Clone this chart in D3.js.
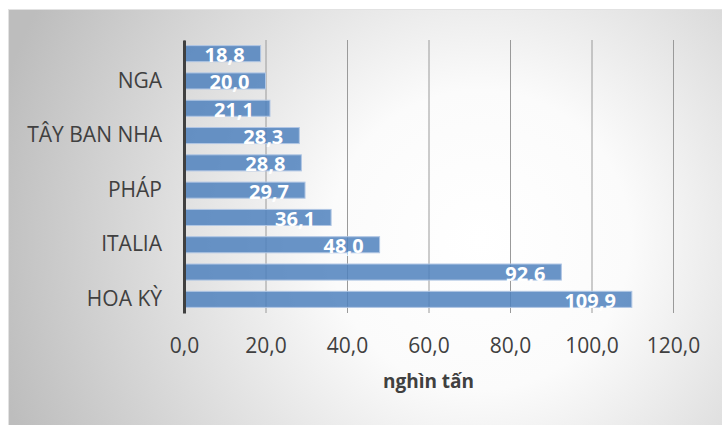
<!DOCTYPE html>
<html>
<head>
<meta charset="utf-8">
<script src="https://d3js.org/d3.v7.min.js"></script>
<style>
  body { margin: 0; background: #fff; }
  text { font-family: 'Open Sans', sans-serif; }
</style>
</head>
<body>
<script>
  // categories from bottom to top (only every other name is printed on the chart)
  var categories = ["HOA KỲ", "", "ITALIA", "", "PHÁP", "", "TÂY BAN NHA", "", "NGA", ""];
  var values = [109.9, 92.6, 48.0, 36.1, 29.7, 28.8, 28.3, 21.1, 20.0, 18.8];
  var shownTicks = [0, 2, 4, 6, 8];
  var xTicks = [0, 20, 40, 60, 80, 100, 120];
  var xTitle = "nghìn tấn";

  var width = 722, height = 425;
  var plotL = 184, plotR = 673, plotT = 40, plotB = 313;

  var vi = d3.formatLocale({decimal: ",", thousands: ".", grouping: [3], currency: ["", "đ"]});
  var fmt = vi.format(".1f");

  var svg = d3.select("body").append("svg")
    .attr("width", width)
    .attr("height", height);

  var grad = svg.append("defs").append("radialGradient")
    .attr("id", "bg")
    .attr("gradientUnits", "userSpaceOnUse")
    .attr("cx", 480).attr("cy", 240).attr("r", 500);
  grad.append("stop").attr("offset", 0).attr("stop-color", "#ffffff");
  grad.append("stop").attr("offset", 0.3).attr("stop-color", "#fbfbfb");
  grad.append("stop").attr("offset", 1).attr("stop-color", "#bdbdbd");

  svg.append("rect")
    .attr("x", 8.5).attr("y", 9.5)
    .attr("width", width + 10).attr("height", height + 10)
    .attr("fill", "url(#bg)")
    .attr("stroke", "#e2e2e2");

  var x = d3.scaleLinear().domain([0, 120]).range([plotL, plotR]);
  var y = d3.scaleBand()
    .domain(d3.range(categories.length))
    .range([plotB, plotT])
    .paddingInner(0.7 / 1.7)
    .paddingOuter(0.35 / 1.7);

  // gridlines + tick labels
  var xAxis = svg.append("g")
    .attr("transform", "translate(0," + plotB + ")")
    .call(d3.axisBottom(x).tickValues(xTicks).tickFormat(fmt).tickSize(-(plotB - plotT)).tickPadding(0));
  xAxis.select(".domain").remove();
  xAxis.selectAll(".tick line").attr("stroke", "#9a9a9a").attr("stroke-width", 1);
  xAxis.selectAll(".tick text")
    .attr("y", 40).attr("dy", 0)
    .attr("fill", "#404040")
    .style("font-size", "21px");

  svg.append("text")
    .attr("x", (plotL + plotR) / 2)
    .attr("y", 388)
    .attr("text-anchor", "middle")
    .attr("fill", "#404040")
    .style("font-size", "19px")
    .style("font-weight", "bold")
    .text(xTitle);

  // bars
  svg.append("g").selectAll("rect")
    .data(values)
    .join("rect")
    .attr("x", x(0))
    .attr("y", function(d, i) { return y(i); })
    .attr("width", function(d) { return x(d) - x(0); })
    .attr("height", y.bandwidth())
    .attr("fill", "#4f81bd")
    .attr("fill-opacity", 0.85)
    .attr("stroke", "#b0c6e4")
    .attr("stroke-width", 1);

  // data labels
  svg.append("g").selectAll("text")
    .data(values)
    .join("text")
    .attr("x", function(d) { return x(d) - 16; })
    .attr("y", function(d, i) { return y(i) + y.bandwidth() + 0.5; })
    .attr("text-anchor", "end")
    .attr("fill", "#ffffff")
    .style("font-size", "20px")
    .style("font-weight", "bold")
    .text(function(d) { return fmt(d); });

  // category axis
  var yAxis = svg.append("g")
    .attr("transform", "translate(" + plotL + ",0)")
    .call(d3.axisLeft(y).tickValues(shownTicks)
      .tickFormat(function(i) { return categories[i]; })
      .tickSize(0).tickSizeOuter(0).tickPadding(22));
  yAxis.select(".domain").attr("stroke", "#404040").attr("stroke-width", 3);
  yAxis.selectAll(".tick text")
    .attr("fill", "#404040")
    .style("font-size", "21px");
</script>
</body>
</html>
